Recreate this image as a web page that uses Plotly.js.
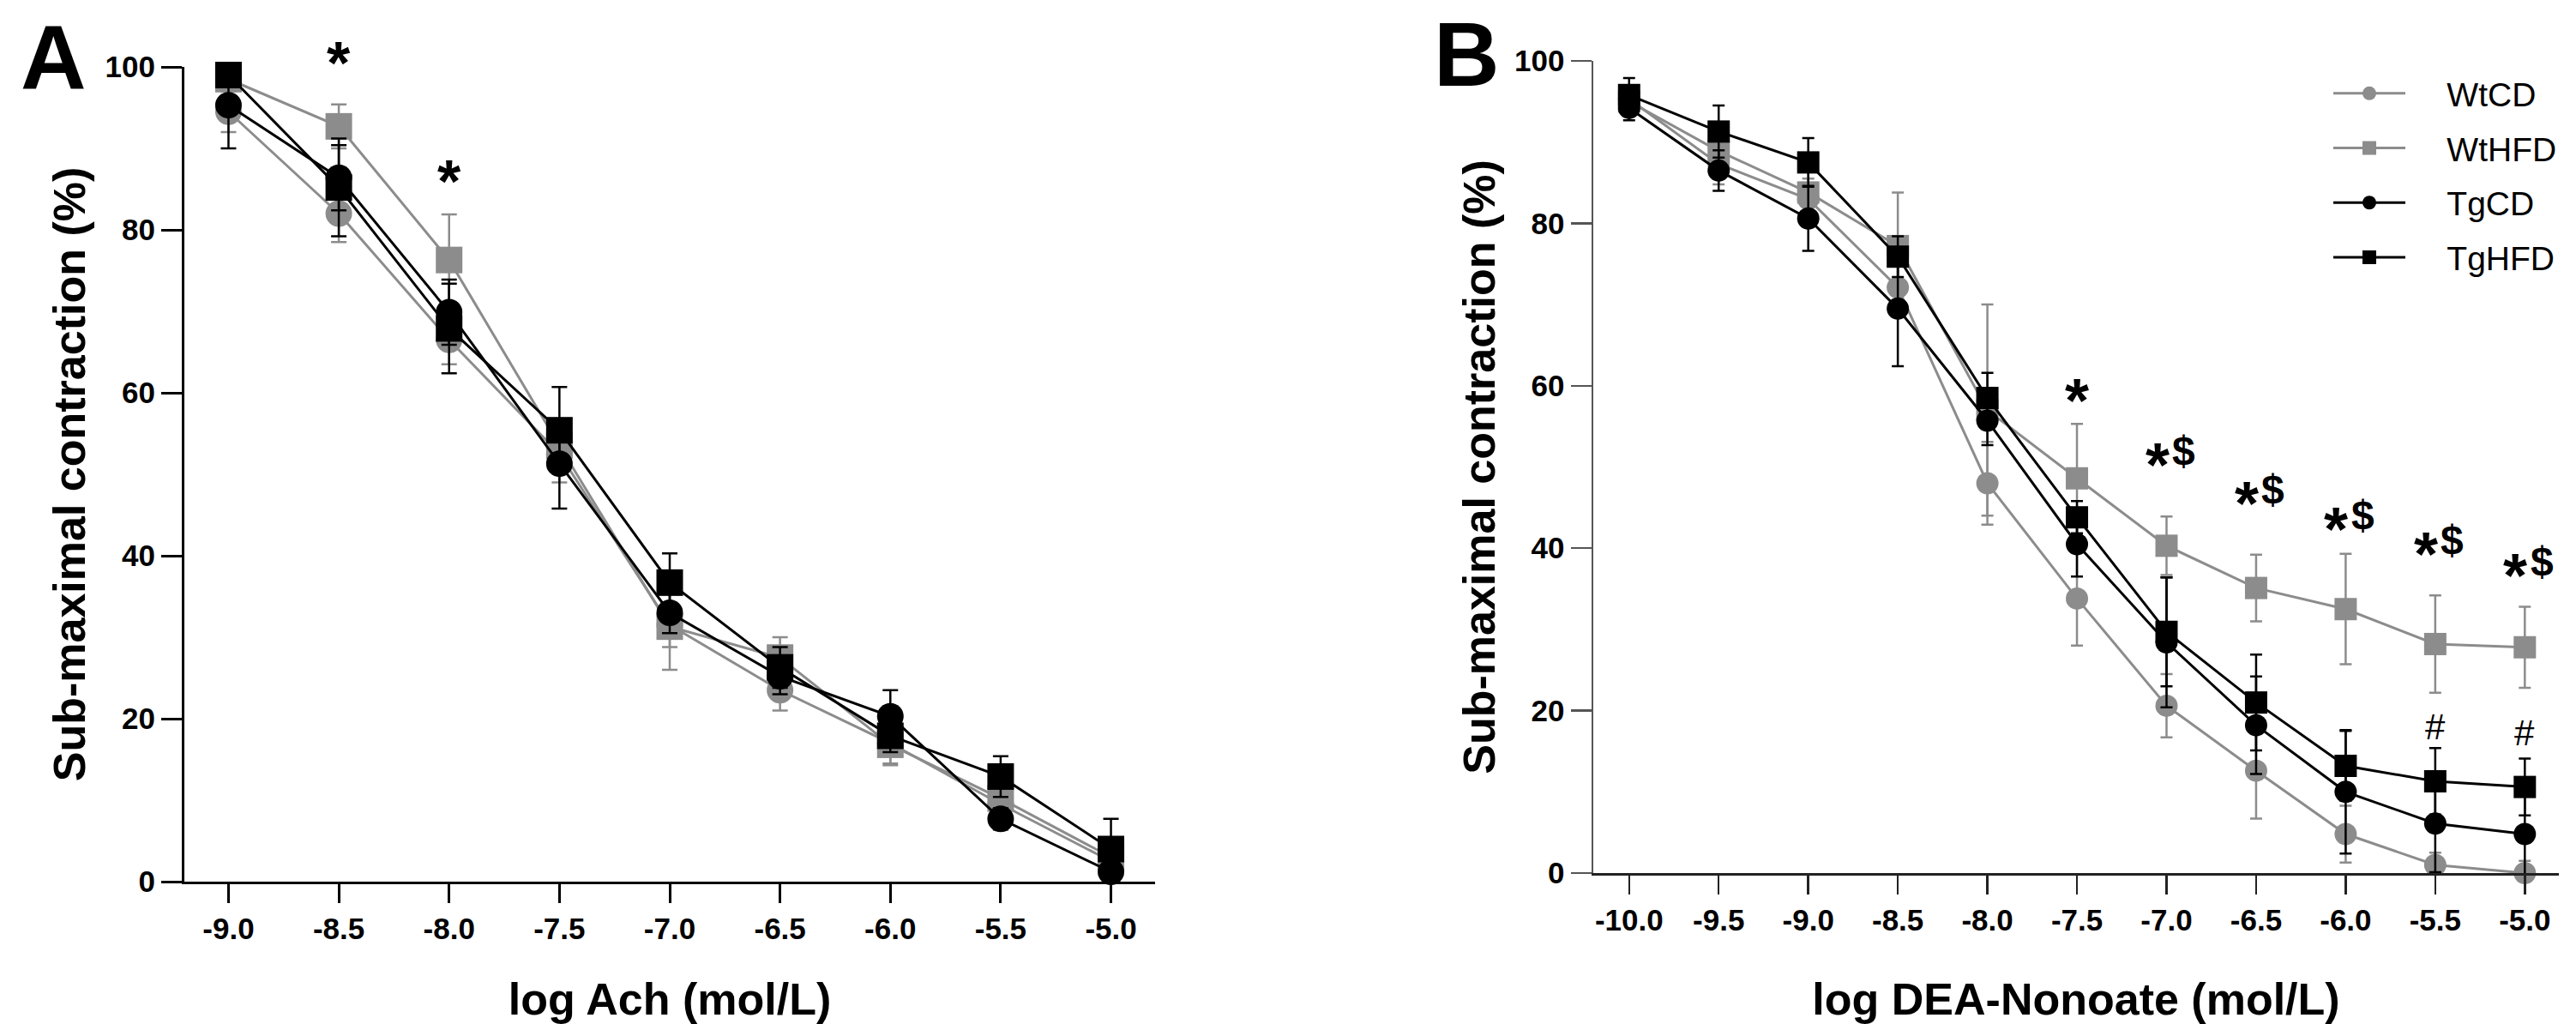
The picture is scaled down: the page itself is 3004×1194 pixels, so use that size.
<!DOCTYPE html>
<html><head><meta charset="utf-8">
<script src="https://cdn.plot.ly/plotly-3.0.1.min.js"></script>
<style>html,body{margin:0;padding:0;background:#fff}</style>
</head><body><div id="chart" style="width:3004px;height:1194px"></div>
<script>
// ---------- data ----------
const groups = ['WtCD', 'WtHFD', 'TgCD', 'TgHFD'];

// Panel A: log Ach (mol/L)
const achX = [-9.0, -8.5, -8.0, -7.5, -7.0, -6.5, -6.0, -5.5, -5.0];
const achWtCD   = [94.5, 82.0, 66.5, 52.5, 31.5, 23.5, 17.0, 9.5, 2.5];
const achWtHFD  = [98.5, 92.7, 76.3, 53.5, 31.3, 27.5, 16.8, 10.2, 3.0];
const achTgCD   = [95.3, 86.4, 69.9, 51.3, 33.0, 25.2, 20.3, 7.7, 1.2];
const achTgHFD  = [99.0, 85.2, 67.9, 55.4, 36.7, 26.3, 17.9, 12.9, 4.0];
const achWtCDErr  = [2.5, 3.5, 3.0, 3.5, 5.5, 2.5, 2.5, 1.5, 1.5];
const achWtHFDErr = [1.5, 2.7, 5.6, 3.0, 2.5, 2.5, 2.5, 1.5, 1.5];
const achTgCDErr  = [5.3, 4.0, 4.0, 5.5, 2.5, 2.2, 3.2, 1.3, 1.5];
const achTgHFDErr = [1.0, 6.0, 5.5, 5.3, 3.6, 2.5, 2.0, 2.5, 3.7];

// Panel B: log DEA-Nonoate (mol/L)
const deaX = [-10.0, -9.5, -9.0, -8.5, -8.0, -7.5, -7.0, -6.5, -6.0, -5.5, -5.0];
const deaWtCD   = [95.3, 87.3, 83.0, 72.1, 48.0, 33.8, 20.6, 12.6, 4.8, 1.0, 0.0];
const deaWtHFD  = [95.0, 88.9, 83.8, 77.2, 57.0, 48.6, 40.3, 35.1, 32.5, 28.2, 27.8];
const deaTgCD   = [94.2, 86.5, 80.6, 69.5, 55.7, 40.5, 28.4, 18.2, 10.0, 6.1, 4.8];
const deaTgHFD  = [95.8, 91.3, 87.5, 75.9, 58.5, 43.8, 29.7, 21.0, 13.2, 11.3, 10.6];
const deaWtCDErr  = [1.5, 2.5, 2.5, 3.0, 5.1, 5.8, 3.9, 5.9, 3.5, 1.5, 1.5];
const deaWtHFDErr = [1.5, 2.5, 2.5, 6.6, 13.0, 6.7, 3.6, 4.1, 6.8, 6.0, 5.0];
const deaTgCDErr  = [1.5, 2.5, 4.0, 7.1, 3.0, 4.0, 8.0, 6.0, 7.6, 6.0, 6.0];
const deaTgHFDErr = [2.1, 3.2, 3.0, 2.5, 3.1, 2.0, 6.7, 5.9, 4.3, 4.1, 3.5];

// tick labels
const yTickVals = [0, 20, 40, 60, 80, 100];
const yTickText = ['0', '20', '40', '60', '80', '100'];
const achTickText = ['-9.0', '-8.5', '-8.0', '-7.5', '-7.0', '-6.5', '-6.0', '-5.5', '-5.0'];
const deaTickText = ['-10.0', '-9.5', '-9.0', '-8.5', '-8.0', '-7.5', '-7.0', '-6.5', '-6.0', '-5.5', '-5.0'];

// significance marks (y = height of the mark, in axis units)
const starAX = [-8.5, -8.0];
const starAY = [102.1, 87.6];
const starBX = [-7.5, -7.0, -6.5, -6.0, -5.5, -5.0];
const starBY = [59.9, 52.0, 47.3, 44.1, 41.0, 38.4];
const dollarBX = [-7.0, -6.5, -6.0, -5.5, -5.0];
const dollarBY = [52.0, 47.3, 44.1, 41.0, 38.4];
const hashBX = [-5.5, -5.0];
const hashBY = [18.0, 17.3];

// ---------- styles ----------
const GRAY = '#8c8c8c', BLACK = '#000000';
const styles = {
  WtCD:  {color: GRAY,  symbol: 'circle'},
  WtHFD: {color: GRAY,  symbol: 'square'},
  TgCD:  {color: BLACK, symbol: 'circle'},
  TgHFD: {color: BLACK, symbol: 'square'}
};
const achY = {WtCD: achWtCD, WtHFD: achWtHFD, TgCD: achTgCD, TgHFD: achTgHFD};
const achE = {WtCD: achWtCDErr, WtHFD: achWtHFDErr, TgCD: achTgCDErr, TgHFD: achTgHFDErr};
const deaY = {WtCD: deaWtCD, WtHFD: deaWtHFD, TgCD: deaTgCD, TgHFD: deaTgHFD};
const deaE = {WtCD: deaWtCDErr, WtHFD: deaWtHFDErr, TgCD: deaTgCDErr, TgHFD: deaTgHFDErr};

const NBSP = '\u00a0\u00a0\u00a0\u00a0';
const traces = [];
groups.forEach(g => {
  const s = styles[g];
  traces.push({
    x: achX, y: achY[g], type: 'scatter', mode: 'lines+markers', name: g,
    xaxis: 'x', yaxis: 'y', showlegend: false, cliponaxis: false,
    line: {color: s.color, width: 3},
    marker: {color: s.color, symbol: s.symbol, size: 31, line: {width: 0}},
    error_y: {type: 'data', array: achE[g], visible: true, color: s.color, thickness: 2.5, width: 9}
  });
});
groups.forEach(g => {
  const s = styles[g];
  traces.push({
    x: deaX, y: deaY[g], type: 'scatter', mode: 'lines+markers', name: NBSP + g,
    xaxis: 'x2', yaxis: 'y2', showlegend: true, legendgroup: g, cliponaxis: false,
    line: {color: s.color, width: 3},
    marker: {color: s.color, symbol: s.symbol, size: 26, line: {width: 0}},
    error_y: {type: 'data', array: deaE[g], visible: true, color: s.color, thickness: 2.5, width: 7}
  });
});

const W = 3004, H = 1194;
const SANS = "'Liberation Sans', Arial, sans-serif";
const tickFont = {family: SANS, size: 35, color: '#000', weight: 'bold'};
const titleFont = {family: SANS, size: 52, color: '#000', weight: 'bold'};

function xAxis(dom, range, vals, text, title, lc, lw, anchor) {
  return {
    domain: dom, range: range, tickvals: vals, ticktext: text, anchor: anchor,
    showline: true, linecolor: lc, linewidth: lw, ticks: 'outside', ticklen: 22, tickwidth: lw, tickcolor: lc,
    showgrid: false, zeroline: false, tickfont: tickFont,
    title: {text: title, font: titleFont}
  };
}
function yAxis(dom, anchor, lc, lw) {
  return {
    domain: dom, range: [0, 100], tickvals: yTickVals, ticktext: yTickText, anchor: anchor,
    showline: true, linecolor: lc, linewidth: lw, ticks: 'outside', ticklen: 24, tickwidth: lw, tickcolor: lc,
    showgrid: false, zeroline: false, tickfont: tickFont,
    title: {text: 'Sub-maximal contraction (%)', font: titleFont}
  };
}

const annotations = [];
// y given as fraction of the axis domain (range is 0..100) so marks above 100 still show
function mark(axis, x, y, text, size, bold, xshift, yshiftFrac) {
  annotations.push({x: x, y: y / 100, xref: 'x' + axis, yref: 'y' + axis + ' domain', text: text, showarrow: false,
    xanchor: 'center', yanchor: 'middle', xshift: xshift, yshift: -yshiftFrac * size,
    font: {family: SANS, size: size, color: '#000', weight: bold ? 'bold' : 'normal'}});
}
starAX.forEach((x, i) => mark('', x, starAY[i], '*', 70, true, 0, 0.23));
starBX.forEach((x, i) => mark('2', x, starBY[i], '*', 72, true, i === 0 ? 0 : -11, 0.23));
dollarBX.forEach((x, i) => mark('2', x, dollarBY[i], '$', 48, true, 20, 0));
hashBX.forEach((x, i) => mark('2', x, hashBY[i], '#', 42, false, 0, 0));

annotations.push({x: 62 / W, y: 1 - 67 / H, xref: 'paper', yref: 'paper', text: 'A', showarrow: false,
  xanchor: 'center', yanchor: 'middle', font: {family: SANS, size: 106, color: '#000', weight: 'bold'}});
annotations.push({x: 1710 / W, y: 1 - 63 / H, xref: 'paper', yref: 'paper', text: 'B', showarrow: false,
  xanchor: 'center', yanchor: 'middle', font: {family: SANS, size: 106, color: '#000', weight: 'bold'}});

const layout = {
  width: W, height: H, margin: {l: 0, r: 0, t: 0, b: 0},
  paper_bgcolor: '#fff', plot_bgcolor: '#fff',
  xaxis: xAxis([215 / W, 1347 / W], [-9.2, -4.8], achX, achTickText, 'log Ach (mol/L)', '#000', 3, 'y'),
  yaxis: yAxis([1 - 1028 / H, 1 - 78 / H], 'x', '#000', 3),
  xaxis2: xAxis([1858 / W, 2984 / W], [-10.2, -4.81], deaX, deaTickText, 'log DEA-Nonoate (mol/L)', '#222', 2.5, 'y2'),
  yaxis2: yAxis([1 - 1018 / H, 1 - 71 / H], 'x2', '#555', 2.5),
  showlegend: true,
  legend: {x: 2716 / W, y: 1 - 77 / H, xanchor: 'left', yanchor: 'top', traceorder: 'grouped', tracegroupgap: 10,
    itemwidth: 84, bgcolor: 'rgba(0,0,0,0)', borderwidth: 0,
    font: {family: SANS, size: 39, color: '#000'}},
  annotations: annotations
};

Plotly.newPlot('chart', traces, layout, {staticPlot: true, displayModeBar: false});
</script></body></html>
